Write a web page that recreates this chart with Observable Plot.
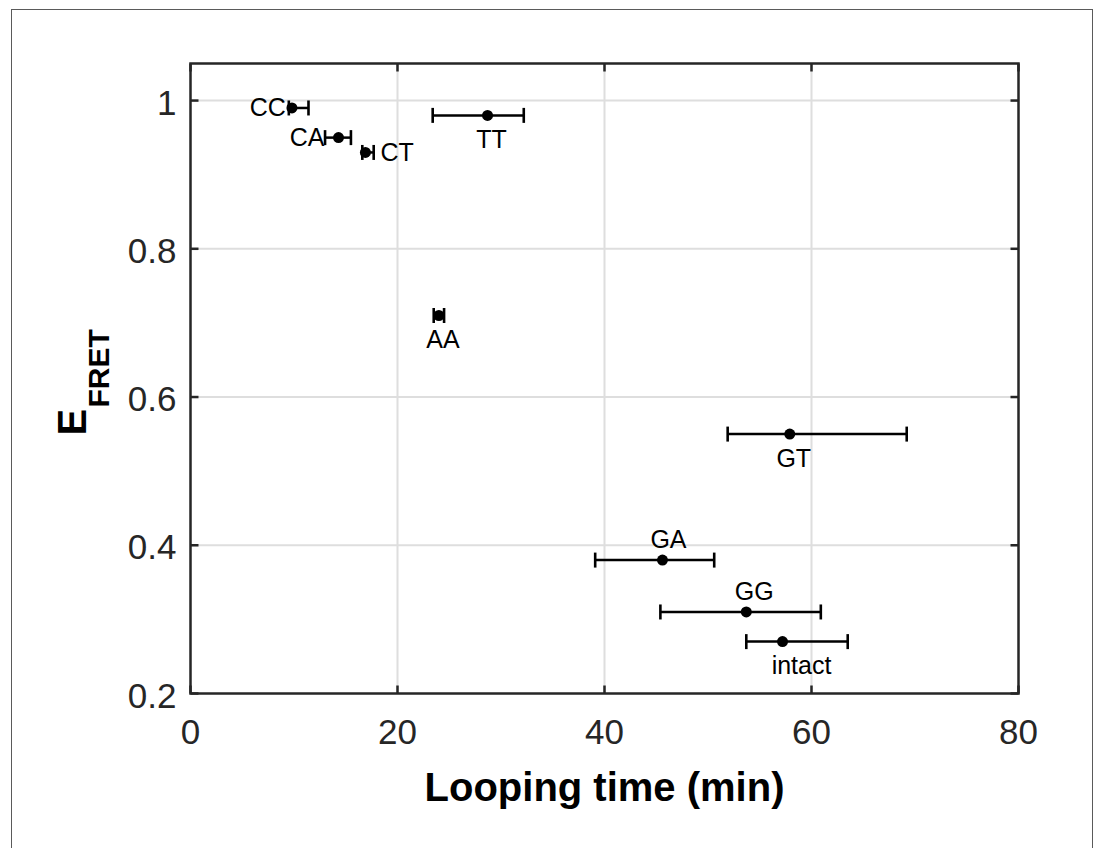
<!DOCTYPE html>
<html>
<head>
<meta charset="utf-8">
<script src="https://cdn.jsdelivr.net/npm/d3@7"></script>
<script src="https://cdn.jsdelivr.net/npm/@observablehq/plot@0.6"></script>
<style>
  html, body { margin: 0; padding: 0; background: #fff; overflow: hidden; }
  #wrap { position: relative; width: 1099px; height: 848px; }
  #border { position: absolute; left: 11px; top: 9px; width: 1082px; height: 900px;
            border: 1.5px solid #5a5a5a; box-sizing: border-box; }
  #chart { position: absolute; left: 0; top: 0; }
</style>
</head>
<body>
<div id="wrap"><div id="border"></div><div id="chart"></div></div>
<script>
// ---- data ----
const labels   = ["CC", "CA", "CT", "TT", "AA", "GT", "GA", "GG", "intact"];
const loopTime = [9.8, 14.3, 16.9, 28.7, 24.0, 57.9, 45.6, 53.7, 57.2];   // minutes
const efret    = [0.99, 0.95, 0.93, 0.98, 0.71, 0.55, 0.38, 0.31, 0.27];
const errLow   = [9.5, 13.0, 16.6, 23.4, 23.5, 51.9, 39.1, 45.4, 53.7];
const errHigh  = [11.4, 15.5, 17.7, 32.2, 24.5, 69.2, 50.6, 60.9, 63.5];
const xTicks = [0, 20, 40, 60, 80];
const yTicks = [0.2, 0.4, 0.6, 0.8, 1];
const xLabel = "Looping time (min)";
const yLabelMain = "E";
const yLabelSub = "FRET";

// ---- label placement (style) ----
const labelPlace = [
  {anchor: "end",    line: "middle", dx: -6,  dy: 0},
  {anchor: "end",    line: "middle", dx: -14, dy: 0},
  {anchor: "start",  line: "middle", dx: 15,  dy: 1},
  {anchor: "middle", line: "top",    dx: 4,   dy: 15},
  {anchor: "middle", line: "top",    dx: 4,   dy: 15},
  {anchor: "middle", line: "top",    dx: 4,   dy: 15},
  {anchor: "middle", line: "bottom", dx: 6,   dy: -12},
  {anchor: "middle", line: "bottom", dx: 8,   dy: -12},
  {anchor: "middle", line: "top",    dx: 19,  dy: 15}
];

const idx = d3.range(labels.length);
const axisColor = "#262626";
const gridColor = "#dedede";

const tickSym = (ux, uy, len) => ({ draw(ctx) { ctx.moveTo(0, 0); ctx.lineTo(ux * len, uy * len); } });
const capSym = { draw(ctx) { ctx.moveTo(0, -7.5); ctx.lineTo(0, 7.5); } };

const chart = Plot.plot({
  width: 1099,
  height: 848,
  marginLeft: 190,
  marginRight: 81,
  marginTop: 63,
  marginBottom: 155,
  style: { fontFamily: "'Liberation Sans', Arial, Helvetica, sans-serif", background: "transparent", color: axisColor },
  x: { domain: [0, 80] },
  y: { domain: [0.2, 1.05] },
  marks: [
    Plot.gridX([20, 40, 60], { stroke: gridColor, strokeOpacity: 1, strokeWidth: 2 }),
    Plot.gridY([0.4, 0.6, 0.8, 1], { stroke: gridColor, strokeOpacity: 1, strokeWidth: 2 }),
    Plot.axisX(xTicks, { tickSize: 0, tickPadding: 26, fontSize: 35, tickFormat: d => String(d), label: null, fill: axisColor }),
    Plot.axisY(yTicks, { tickSize: 0, tickPadding: 14, dy: 3, fontSize: 35, tickFormat: d => String(d), label: null, fill: axisColor }),
    // inward ticks on all four sides
    Plot.dot(xTicks, { x: d => d, frameAnchor: "bottom", symbol: tickSym(0, -1, 8), stroke: axisColor, strokeWidth: 2.5, fill: "none" }),
    Plot.dot(xTicks, { x: d => d, frameAnchor: "top", symbol: tickSym(0, 1, 8), stroke: axisColor, strokeWidth: 2.5, fill: "none" }),
    Plot.dot(yTicks, { y: d => d, frameAnchor: "left", symbol: tickSym(1, 0, 8), stroke: axisColor, strokeWidth: 2.5, fill: "none" }),
    Plot.dot(yTicks, { y: d => d, frameAnchor: "right", symbol: tickSym(-1, 0, 8), stroke: axisColor, strokeWidth: 2.5, fill: "none" }),
    Plot.frame({ stroke: axisColor, strokeWidth: 2.5 }),
    // error bars
    Plot.ruleY(idx, { y: i => efret[i], x1: i => errLow[i], x2: i => errHigh[i], stroke: "black", strokeWidth: 2.5 }),
    Plot.dot(idx, { x: i => errLow[i], y: i => efret[i], symbol: capSym, stroke: "black", strokeWidth: 2.6, fill: "none" }),
    Plot.dot(idx, { x: i => errHigh[i], y: i => efret[i], symbol: capSym, stroke: "black", strokeWidth: 2.6, fill: "none" }),
    Plot.dot(idx, { x: i => loopTime[i], y: i => efret[i], r: 5.5, fill: "black", stroke: "none" }),
    // point labels
    ...idx.map(i => Plot.text([i], {
      x: j => loopTime[j], y: j => efret[j], text: j => labels[j],
      textAnchor: labelPlace[i].anchor, lineAnchor: labelPlace[i].line,
      dx: labelPlace[i].dx, dy: labelPlace[i].dy,
      fontSize: 25, fill: "black"
    })),
    // axis titles
    Plot.text([xLabel], { text: d => d, frameAnchor: "bottom", lineAnchor: "bottom", dy: 107, fontSize: 40, fontWeight: "bold", fill: "black" }),
    Plot.text([yLabelMain], { text: d => d, frameAnchor: "left", rotate: -90, textAnchor: "start", lineAnchor: "bottom", dx: -105, dy: 57, fontSize: 40, fontWeight: "bold", fill: "black" }),
    Plot.text([yLabelSub], { text: d => d, frameAnchor: "left", rotate: -90, textAnchor: "start", lineAnchor: "bottom", dx: -82, dy: 29, fontSize: 30, fontWeight: "bold", fill: "black" })
  ]
});
document.getElementById("chart").appendChild(chart);
</script>
</body>
</html>
